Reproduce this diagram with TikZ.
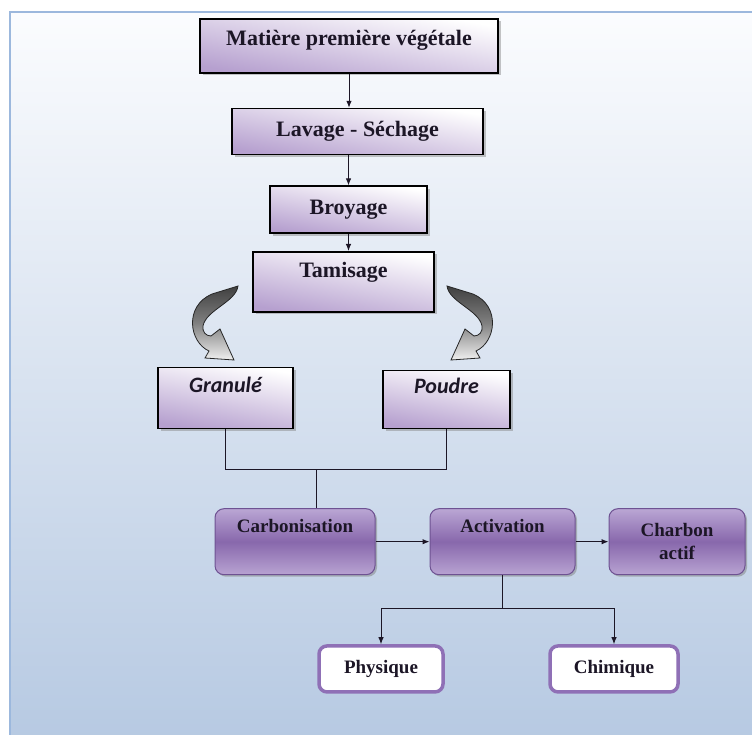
\documentclass[tikz,border=0pt]{standalone}
\usepackage{fontspec}
\setmainfont{Liberation Serif}
\newfontfamily\calfont{Carlito}
\usetikzlibrary{shapes, arrows.meta, positioning, shadows, calc}

\definecolor{framebl}{RGB}{156,184,221}
\definecolor{bgtop}{RGB}{251,252,254}
\definecolor{bgbot}{RGB}{182,201,226}
\definecolor{lav}{RGB}{182,160,207}
\definecolor{stagetop}{RGB}{186,166,212}
\definecolor{stagemid}{RGB}{136,104,172}
\definecolor{stagebot}{RGB}{184,163,210}
\definecolor{stageline}{RGB}{110,82,146}
\definecolor{resline}{RGB}{143,112,182}
\definecolor{ink}{RGB}{28,22,38}

\tikzset{
  procbox/.style={rectangle, draw=black, line width=1.6pt, inner sep=0pt,
    top color=white, bottom color=lav, shading angle=-10,
    drop shadow={shadow xshift=2.5pt, shadow yshift=-2.5pt, opacity=.45},
    font=\fontsize{22}{24}\selectfont\bfseries, text=ink,
    text height=16pt, text depth=7pt},
  formbox/.style={procbox, font=\fontsize{22}{24}\selectfont\calfont\bfseries\itshape},
  stagebox/.style={rectangle, rounded corners=9pt, draw=stageline, line width=1pt,
    inner sep=0pt, minimum height=66pt,
    top color=stagetop, bottom color=stagebot, middle color=stagemid,
    drop shadow={shadow xshift=2pt, shadow yshift=-2pt, opacity=.5},
    font=\fontsize{19}{23}\selectfont\bfseries, text=ink},
  lifted/.style={text height=14pt, text depth=32pt},
  resbox/.style={rectangle, rounded corners=8pt, draw=resline, line width=3.5pt,
    fill=white, inner sep=0pt, minimum height=46pt,
    font=\fontsize{19}{23}\selectfont\bfseries, text=ink},
  link/.style={draw=ink, line width=1pt},
  bendarrow/.style={draw=black!85, line width=.8pt,
    top color=black!75, bottom color=black!6, middle color=black!50}
}

\begin{document}
\begin{tikzpicture}[x=1pt, y=-1pt, >={Latex[length=7pt,width=5.5pt]}]
  \useasboundingbox (0,0) rectangle (752,735);
  \fill[white] (0,0) rectangle (752,735);
  \path[top color=bgtop, bottom color=bgbot, draw=framebl, line width=1.5pt]
    (10,12) rectangle (760,745);

  % preparation
  \node[procbox, minimum width=298pt, minimum height=54pt, text depth=16pt] (matiere) at (349,46) {Matière première végétale};
  \node[procbox, minimum width=251pt, minimum height=46pt, below=34pt of matiere, xshift=8.5pt] (lavage) {Lavage - Séchage};
  \node[procbox, minimum width=157pt, minimum height=47pt, below=30pt of lavage, xshift=-9pt] (broyage) {Broyage};
  \node[procbox, minimum width=181pt, minimum height=60pt, below=17pt of broyage, xshift=-5pt, text depth=24pt] (tamisage) {Tamisage};
  \node[formbox, minimum width=135pt, minimum height=61pt, below=54pt of tamisage, xshift=-118pt, text depth=26pt] (granule) {Granulé};
  \node[formbox, minimum width=127pt, minimum height=58pt, below=57pt of tamisage, xshift=103pt, text depth=28pt] (poudre) {Poudre};

  % traitement
  \node[stagebox, lifted, minimum width=160pt, below=79pt of granule, xshift=69.5pt] (carbonisation) {Carbonisation};
  \node[stagebox, lifted, minimum width=145pt, right=54pt of carbonisation] (activation) {Activation};
  \node[stagebox, minimum width=136pt, right=33pt of activation, align=center] (charbon) {Charbon\\actif};
  \node[resbox, minimum width=124pt, below=69pt of activation, xshift=-121.5pt] (physique) {Physique};
  \node[resbox, minimum width=128pt, below=69pt of activation, xshift=111.5pt] (chimique) {Chimique};

  % curved arrows from Tamisage
  \foreach \flip/\shift in {1/0, -1/685}
    \path[bendarrow, xshift=\shift pt, xscale=\flip]
      (212,294) -- (238,286) .. controls (236,302) and (206,310) .. (203,326)
      .. controls (202,332) and (206,336) .. (211,336) -- (220,329) -- (234,360)
      -- (205,358) -- (209,351) .. controls (189,342) and (184,306) .. (212,294) -- cycle;

  \coordinate[below=40pt of granule.south] (gjoin);
  \coordinate (cin) at ([xshift=21pt]carbonisation.north);
  \coordinate[below=33pt of activation.south] (abranch);

  \draw[link, ->] (matiere.south) -- (matiere.south |- lavage.north);
  \draw[link, ->] (lavage.south -| broyage.north) -- (broyage.north);
  \draw[link, ->] (broyage.south) -- (broyage.south |- tamisage.north);
  \draw[link] (granule.south) -- (gjoin) -| (poudre.south);
  \draw[link] (cin |- gjoin) -- (cin);
  \draw[link, ->] (carbonisation.east) -- (activation.west);
  \draw[link, ->] (activation.east) -- (charbon.west);
  \draw[link] (activation.south) -- (abranch);
  \draw[link, ->] (abranch) -| (physique.north);
  \draw[link, ->] (abranch) -| (chimique.north);
\end{tikzpicture}
\end{document}
